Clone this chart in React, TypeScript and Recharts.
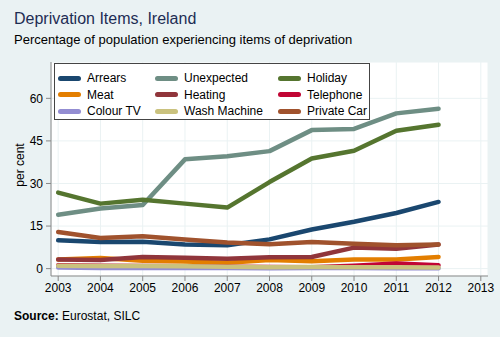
import React from "react"
import { LineChart, Line, XAxis, YAxis, CartesianGrid } from "recharts"

const years = [2003, 2004, 2005, 2006, 2007, 2008, 2009, 2010, 2011, 2012]
const arrears = [10.0, 9.4, 9.5, 8.5, 8.2, 10.3, 13.8, 16.5, 19.6, 23.5]
const unexpected = [19.0, 21.2, 22.4, 38.5, 39.6, 41.4, 48.8, 49.2, 54.7, 56.3]
const holiday = [26.8, 22.9, 24.3, 22.9, 21.5, 30.5, 38.8, 41.5, 48.6, 50.7]
const meat = [3.2, 3.7, 2.8, 2.5, 2.1, 3.0, 2.6, 3.2, 3.2, 4.1]
const heating = [3.2, 3.0, 4.1, 3.8, 3.5, 4.0, 4.1, 7.4, 7.0, 8.5]
const telephone = [1.2, 1.0, 0.9, 0.8, 0.7, 0.6, 0.5, 1.0, 1.8, 1.2]
const colourTv = [0.4, 0.2, 0.2, 0.2, 0.2, 0.1, 0.2, 0.2, 0.1, 0.1]
const washMachine = [1.0, 0.9, 0.9, 0.8, 0.7, 0.5, 0.6, 0.5, 0.5, 0.4]
const privateCar = [12.9, 10.8, 11.4, 10.3, 9.2, 8.6, 9.4, 8.8, 8.2, 8.5]

const xTicks = [2003, 2004, 2005, 2006, 2007, 2008, 2009, 2010, 2011, 2012, 2013]
const yTicks = [0, 15, 30, 45, 60]

const series = [
  { key: "arrears", name: "Arrears", color: "#1a476f", values: arrears },
  { key: "unexpected", name: "Unexpected", color: "#6e8e84", values: unexpected },
  { key: "holiday", name: "Holiday", color: "#55752f", values: holiday },
  { key: "meat", name: "Meat", color: "#e37e00", values: meat },
  { key: "heating", name: "Heating", color: "#90353b", values: heating },
  { key: "telephone", name: "Telephone", color: "#c10534", values: telephone },
  { key: "colourTv", name: "Colour TV", color: "#938dd2", values: colourTv },
  { key: "washMachine", name: "Wash Machine", color: "#cac27e", values: washMachine },
  { key: "privateCar", name: "Private Car", color: "#a0522d", values: privateCar },
]

const data = years.map((year, i) => {
  const row: Record<string, number> = { year }
  series.forEach((s) => (row[s.key] = s.values[i]))
  return row
})

const font = "'Liberation Sans', Arial, sans-serif"
const colX = [3, 100, 223]

// legend box drawn on top of the plot, 3 columns like the original
function LegendBox() {
  return (
    <div
      style={{
        position: "absolute",
        left: 54,
        top: 63,
        width: 316,
        height: 57,
        background: "#fff",
        border: "1px solid #444",
        boxSizing: "border-box",
        fontSize: 12,
        color: "#000",
      }}
    >
      {series.map((s, i) => {
        const col = i % 3
        const row = Math.floor(i / 3)
        return (
          <div
            key={s.key}
            style={{ position: "absolute", left: colX[col], top: 6 + row * 16.5, height: 16, display: "flex", alignItems: "center", whiteSpace: "nowrap" }}
          >
            <div style={{ width: 23, height: 5, borderRadius: 3, background: s.color, marginRight: 6 }} />
            <span>{s.name}</span>
          </div>
        )
      })}
    </div>
  )
}

export default function App() {
  return (
    <div style={{ position: "absolute", left: 0, top: 0, width: 500, height: 337, background: "#eaf2f3", fontFamily: font }}>
      <LineChart
        width={500}
        height={337}
        data={data}
        margin={{ top: 62, right: 12, bottom: 31, left: 0 }}
        style={{ position: "absolute", left: 0, top: 0 }}
      >
        <CartesianGrid fill="#ffffff" stroke="#eaf2f3" strokeWidth={1} />
        <XAxis
          dataKey="year"
          type="number"
          domain={[2002.83, 2013.17]}
          ticks={xTicks}
          allowDataOverflow
          height={30}
          stroke="#888"
          tickSize={5}
          tick={{ fill: "#000", fontSize: 12, fontFamily: font }}
          tickMargin={2}
        />
        <YAxis
          type="number"
          domain={[-2.6, 72.8]}
          ticks={yTicks}
          allowDataOverflow
          width={51}
          stroke="#888"
          tickSize={5}
          tick={{ fill: "#000", fontSize: 12, fontFamily: font }}
          tickMargin={3}
        />
        {series.map((s) => (
          <Line
            key={s.key}
            dataKey={s.key}
            name={s.name}
            type="linear"
            stroke={s.color}
            strokeWidth={4.5}
            strokeLinecap="round"
            strokeLinejoin="round"
            dot={false}
            activeDot={false}
            isAnimationActive={false}
          />
        ))}
      </LineChart>
      <div style={{ position: "absolute", left: 14, top: 10, fontSize: 16, color: "#1e2d53" }}>Deprivation Items, Ireland</div>
      <div style={{ position: "absolute", left: 14, top: 32, fontSize: 13, color: "#000" }}>
        Percentage of population experiencing items of deprivation
      </div>
      <div
        style={{
          position: "absolute",
          left: 20,
          top: 165,
          fontSize: 12,
          color: "#000",
          transform: "translate(-50%, -50%) rotate(-90deg)",
          whiteSpace: "nowrap",
        }}
      >
        per cent
      </div>
      <div style={{ position: "absolute", left: 14, top: 309, fontSize: 12, color: "#000" }}>
        <b>Source:</b> Eurostat, SILC
      </div>
      <LegendBox />
    </div>
  )
}
